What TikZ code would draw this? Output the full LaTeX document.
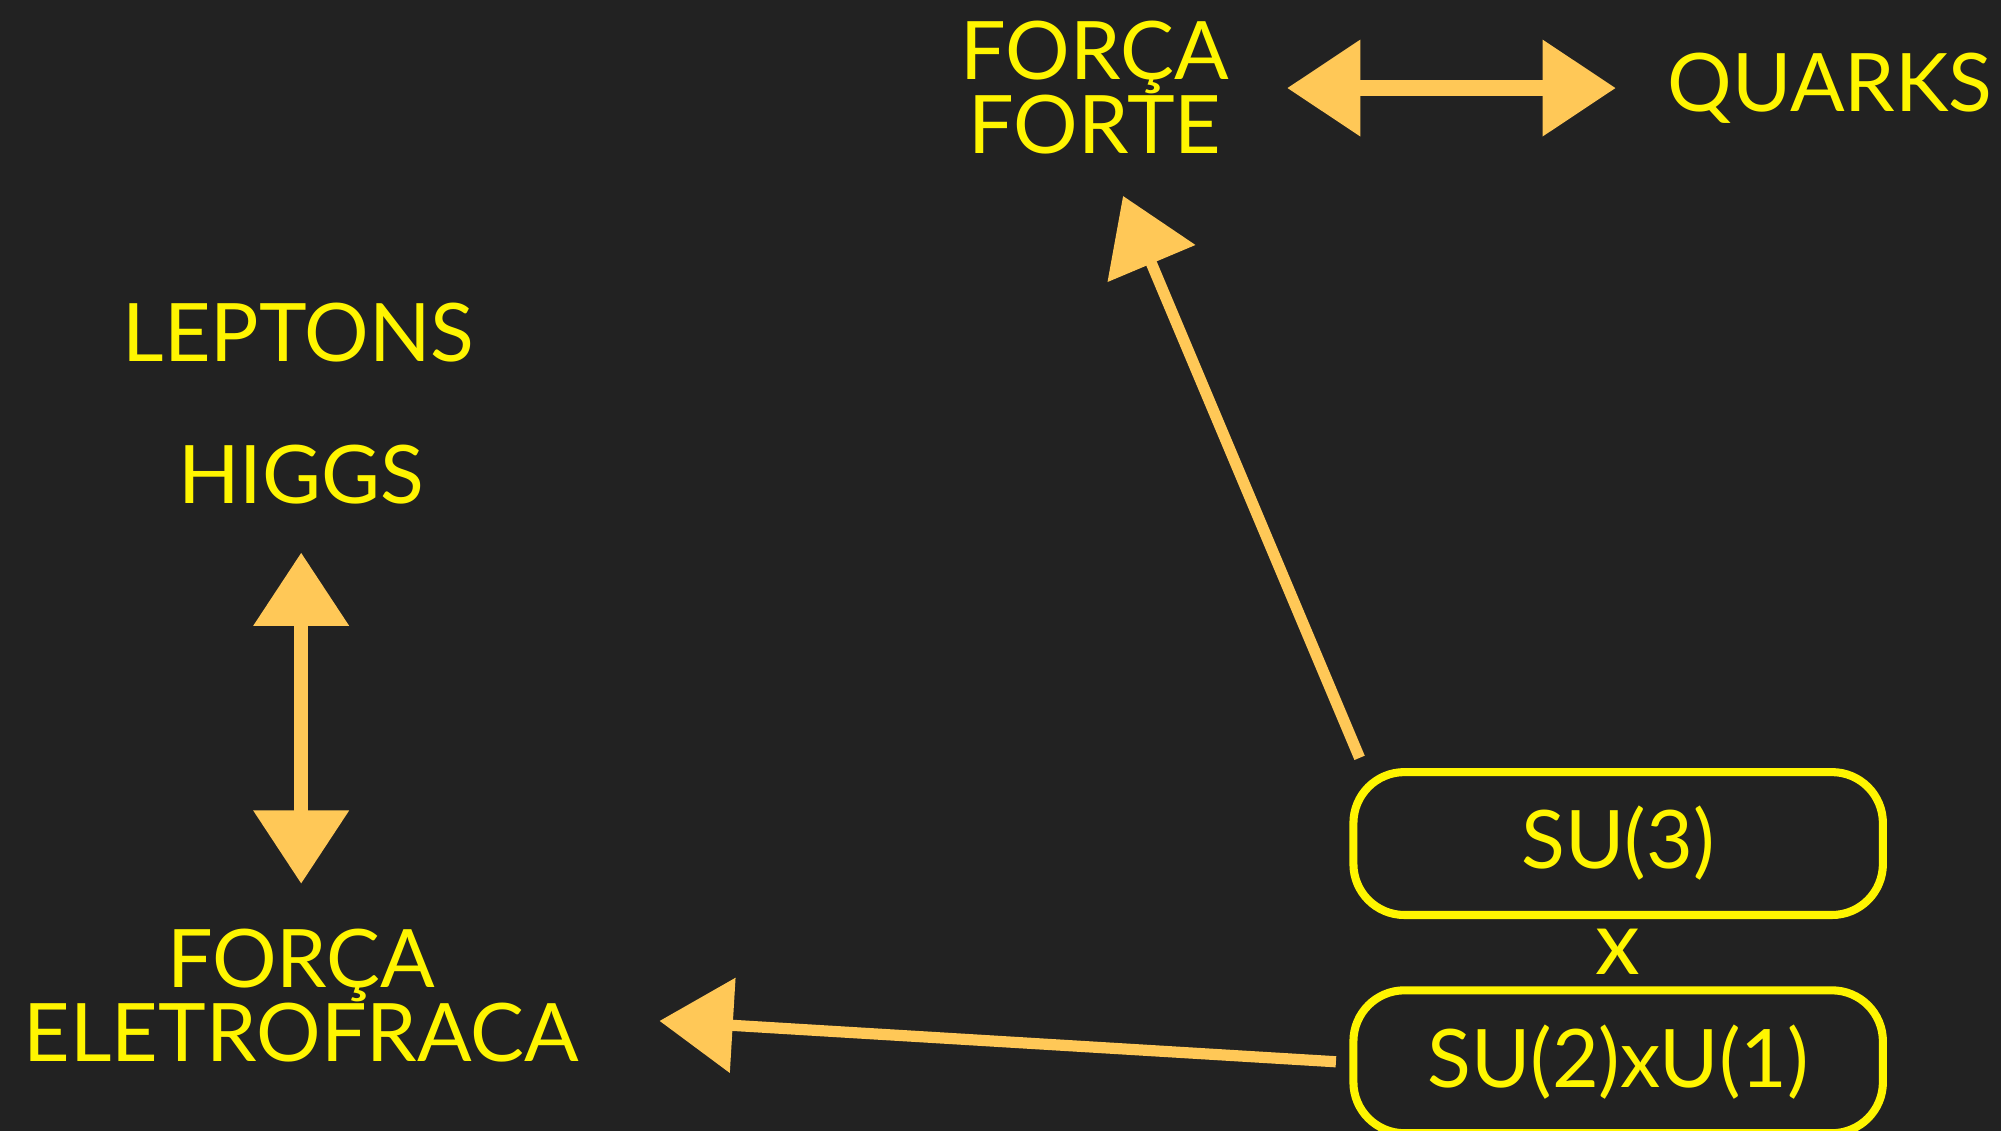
\documentclass[tikz,border=0pt]{standalone}
\usepackage{fontspec}
\setmainfont{Lato}
\usetikzlibrary{arrows.meta}
\definecolor{bg}{HTML}{222222}
\definecolor{txt}{HTML}{FFF500}
\definecolor{chalk}{HTML}{FFC857}

\begin{document}
\begin{tikzpicture}[x=0.02cm,y=-0.02cm,
  word node/.style={text=txt,font=\fontsize{36}{33}\selectfont,align=center,inner sep=0pt},
  group node/.style={word node,draw=txt,line width=3.6pt,rounded corners=0.8cm,
    minimum width=8.3cm,minimum height=2.24cm},
  chalk tip/.tip={Triangle[length=1.15cm,width=1.45cm]},
  chalk arrow/.style={draw=chalk,line width=5pt,-chalk tip},
  chalk both/.style={draw=chalk,line width=6pt,chalk tip-chalk tip}]

  \fill[bg] (0,0) rectangle (1568,886);
  \useasboundingbox (0,0) rectangle (1568,886);

  \node[word node] (forte) at (858,69) {FORÇA\\FORTE};
  \node[word node] (quarks) at (1434,69) {QUARKS};
  \node[word node] (leptons) at (234,261) {LEPTONS};
  \node[word node] (higgs) at (236,372) {HIGGS};
  \node[word node] (eletro) at (236,780) {FORÇA\\ELETROFRACA};
  \node[group node] (su3) at (1268,661) {SU(3)};
  \node[word node,font=\fontsize{40}{36}\selectfont] (times) at (1268,746) {x};
  \node[group node] (su2u1) at (1268,832) {SU(2)xU(1)};

  \path
   (forte) edge[chalk both,line width=7pt,shorten <=0.9cm,shorten >=0.8cm] (quarks)
   (higgs) edge[chalk both,shorten <=0.75cm,shorten >=0.7cm] (eletro)
   ([shift={(8,-8)}]su3.north west) edge[chalk arrow] ([shift={(22,32)}]forte.south)
   ([xshift=-6]su2u1.west) edge[chalk arrow] ([shift={(63,20)}]eletro.east);
\end{tikzpicture}
\end{document}
